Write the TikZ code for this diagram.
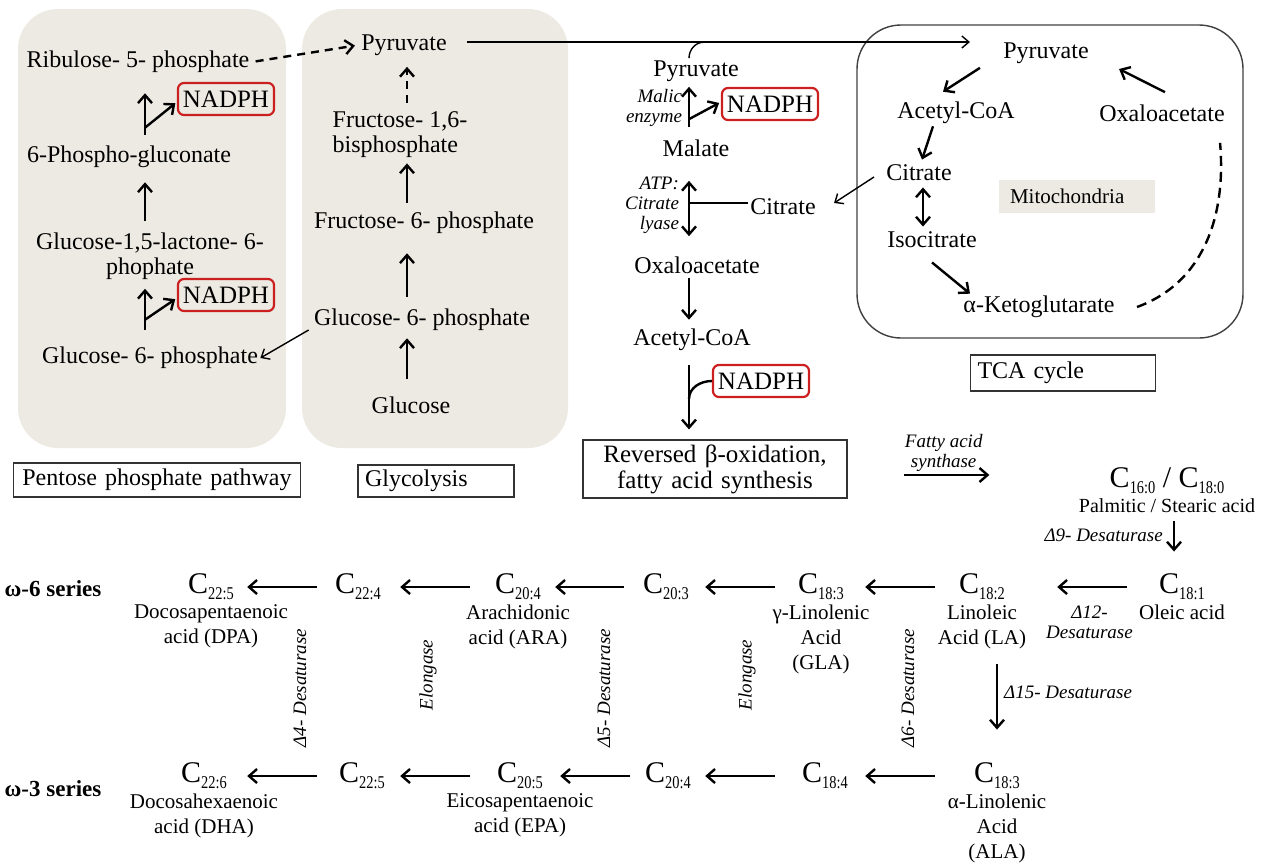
\documentclass[tikz,border=0pt]{standalone}
\usepackage{fontspec}
\setmainfont{Liberation Serif}
\usepackage{tikz}
\usetikzlibrary{positioning,arrows.meta,calc}

\definecolor{panelgray}{RGB}{236,234,226}
\definecolor{nadred}{RGB}{204,32,32}

% carbon chain label C_{n:m}
\newcommand{\chain}[1]{{\fontsize{15}{15}\selectfont C}\raisebox{-3pt}{\scalebox{0.8}[1]{\fontsize{9}{9}\selectfont #1}}}

\begin{document}
\begin{tikzpicture}[
    x=0.5pt, y=-0.5pt,
    lbl/.style={font=\fontsize{12}{12.5}\selectfont, align=center, inner sep=1pt},
    enz/.style={font=\fontsize{9.5}{10}\selectfont\itshape, align=center, inner sep=1pt},
    nadph/.style={draw=nadred, line width=1.1pt, rounded corners=3pt,
                  font=\fontsize{12.5}{12.5}\selectfont, minimum width=48pt,
                  minimum height=16pt, inner sep=1pt},
    tag/.style={draw=black!80, line width=0.6pt, font=\fontsize{12}{12.5}\selectfont,
                inner xsep=3.5pt, inner ysep=1pt, align=left},
    fa/.style={font=\fontsize{15}{15}\selectfont, inner sep=1pt},
    faname/.style={font=\fontsize{10.5}{12.5}\selectfont, align=center, inner sep=0pt},
    series/.style={font=\fontsize{11.5}{12}\selectfont\bfseries},
    arr/.style={-{Straight Barb[length=4pt,width=7pt]}, line width=1.2pt},
    darr/.style={{Straight Barb[length=4pt,width=7pt]}-{Straight Barb[length=4pt,width=7pt]}, line width=1.2pt},
    thinarr/.style={-{Straight Barb[length=3.5pt,width=6pt]}, line width=0.7pt},
    dasharr/.style={arr, dash pattern=on 4pt off 3pt}
]
\useasboundingbox (0,0) rectangle (1261,863);

% panels
\fill[panelgray, rounded corners=20pt] (18,9) rectangle (286,448);
\fill[panelgray, rounded corners=20pt] (302,9) rectangle (568,448);
\draw[black!75, line width=0.7pt, rounded corners=22pt] (857,25) rectangle (1243,338);

% pentose phosphate pathway
\coordinate (pcol) at (145,0);
\node[lbl] (rib) at (138,62) {Ribulose- 5- phosphate};
\node[lbl] (pgl) at (129,157) {6-Phospho-gluconate};
\node[lbl] (lac) at (150,256) {Glucose-1,5-lactone- 6-\\phophate};
\node[lbl] (g6pa) at (150,358) {Glucose- 6- phosphate};
\node[nadph] (nad1) at (226,99) {NADPH};
\node[nadph] (nad2) at (226,295) {NADPH};
\draw[arr, shorten <=4.5pt, shorten >=9pt] (pgl.north -| pcol) -- (rib.south -| pcol);
\draw[arr, shorten >=1pt] ([yshift=8pt]pgl.north -| pcol) -- ([yshift=-1.5pt]nad1.west);
\draw[arr, shorten <=4.5pt, shorten >=6pt] (lac.north -| pcol) -- (pgl.south -| pcol);
\draw[arr, shorten <=7.5pt, shorten >=3.5pt] (g6pa.north -| pcol) -- (lac.south -| pcol);
\draw[arr, shorten >=1pt] ([yshift=12.5pt]g6pa.north -| pcol) -- ([yshift=-1.5pt]nad2.west);

% glycolysis
\coordinate (gcol) at (407,0);
\node[lbl] (pyrg) at (404,45) {Pyruvate};
\node[lbl, align=left] (f16) at (400,135) {Fructose- 1,6-\\bisphosphate};
\node[lbl] (f6p) at (424,223) {Fructose- 6- phosphate};
\node[lbl] (g6pb) at (422,320) {Glucose- 6- phosphate};
\node[lbl] (glc) at (411,405) {Glucose};
\draw[dasharr, shorten <=3.5pt, shorten >=4.5pt] (f16.north -| gcol) -- (pyrg.south -| gcol);
\draw[arr, shorten <=3.5pt, shorten >=1.5pt] (f6p.north -| gcol) -- (f16.south -| gcol);
\draw[arr, shorten <=5pt, shorten >=8.5pt] (g6pb.north -| gcol) -- (f6p.south -| gcol);
\draw[arr, shorten <=7.5pt, shorten >=2.5pt] (glc.north -| gcol) -- (g6pb.south -| gcol);
\draw[thinarr] ([shift={(-1.5pt,-5pt)}]g6pb.west) -- (g6pa.east);
\draw[dasharr, shorten <=2pt, shorten >=2pt] (rib.east) -- (pyrg.west);

% cytosol
\coordinate (mcol) at (689,0);
\node[lbl] (pyrc) at (696,71) {Pyruvate};
\node[nadph] (nad3) at (770,104) {NADPH};
\node[enz, align=right] (malic) at (654,108) {Malic\\enzyme};
\node[lbl] (mal) at (696,148) {Malate};
\node[enz, align=right] (atp) at (652,205) {ATP:\\Citrate\\lyase};
\node[lbl] (citc) at (783,207) {Citrate};
\node[lbl] (oaac) at (697,265) {Oxaloacetate};
\node[lbl] (acoac) at (692,340) {Acetyl-CoA};
\node[nadph] (nad4) at (761,381) {NADPH};
\node[tag, align=center, font=\fontsize{12.5}{13}\selectfont, text width=125pt,
      minimum height=29pt] (rbox) at (715,469) {Reversed β-oxidation,\\fatty acid synthesis};
\draw[arr, shorten <=5pt, shorten >=1.5pt] (mal.north -| mcol) -- (pyrc.south -| mcol);
\draw[arr, shorten >=1pt] ([yshift=9pt]mal.north -| mcol) -- ([yshift=1pt]nad3.west);
\draw[darr, shorten <=11pt, shorten >=9pt] (mal.south -| mcol) -- (oaac.north -| mcol);
\draw[line width=1.2pt] ([yshift=2pt]citc.west) -- ([yshift=2pt]citc.west -| mcol);
\draw[arr, shorten <=1pt, shorten >=3.5pt] (oaac.south -| mcol) -- (acoac.north -| mcol);
\draw[arr, shorten <=6pt, shorten >=5pt] (acoac.south -| mcol) -- (rbox.north -| mcol);
\draw[line width=1.2pt] (nad4.west) to[out=180,in=90] ([yshift=-9pt]nad4.west -| mcol);

% TCA cycle
\node[lbl] (pyrt) at (1046,53) {Pyruvate};
\node[lbl] (acoat) at (956,113) {Acetyl-CoA};
\node[lbl] (citt) at (919,173) {Citrate};
\node[lbl] (isot) at (932,240) {Isocitrate};
\node[lbl] (akgt) at (1039,307) {α-Ketoglutarate};
\node[lbl] (oaat) at (1162,113) {Oxaloacetate};
\node[fill=panelgray, font=\fontsize{10.5}{11}\selectfont, text width=67pt, align=left,
      inner xsep=5.5pt, minimum height=16.5pt] (mito) at (1077,196) {Mitochondria};
\draw[arr] ([shift={(-10.5pt,-1pt)}]pyrt.south west) -- ([shift={(-6.5pt,4pt)}]acoat.north);
\draw[arr] ([xshift=-11.5pt]acoat.south) -- ([shift={(1.5pt,1.5pt)}]citt.north);
\draw[darr] ([shift={(2pt,-2pt)}]citt.south) -- ([shift={(2pt,1.5pt)}]isot.north -| citt.south);
\draw[arr] ([yshift=-6pt]isot.south) -- ([xshift=-34.5pt]akgt.north);
\draw[arr] ([shift={(1.5pt,5pt)}]oaat.north) -- ([shift={(14pt,-8pt)}]pyrt.east);
\draw[line width=1.2pt, dash pattern=on 5pt off 3pt]
    ([xshift=10pt]akgt.east) to[out=20,in=-85] ([shift={(-3.5pt,-9.5pt)}]oaat.south east);

% links between compartments
\draw[thinarr] ([shift={(9pt,1.5pt)}]pyrg.east) -- ([shift={(-15.5pt,1.5pt)}]pyrg.east -| pyrt.west);
\draw[line width=0.7pt] ([xshift=-3.5pt]pyrc.north) to[out=90,in=180] ([shift={(4pt,8pt)}]pyrc.north);
\draw[thinarr] ([shift={(-5pt,-2pt)}]citt.west) -- ([shift={(8pt,2pt)}]citc.east);

% pathway tags
\node[tag, text width=136.5pt, align=center, minimum height=17pt] (ppp) at (157,480) {Pentose phosphate pathway};
\node[tag, text width=71pt, minimum height=16pt] (glyc) at (436,481) {Glycolysis};
\node[tag, text width=85.5pt, minimum height=18pt] (tca) at (1063,373) {TCA cycle};

% fatty acids
\node[fa] (c16) at (1167,481) {\chain{16:0} / \chain{18:0}};
\node[faname, below=1pt of c16, font=\fontsize{10}{12}\selectfont] (palm) {Palmitic / Stearic acid};
\draw[arr, shorten <=28pt, shorten >=59pt] ([yshift=-3pt]rbox.east) -- ([yshift=-3pt]rbox.east -| c16.west)
    node[enz, pos=0.37, above=0pt] {Fatty acid\\synthase};

% omega-6 series
\node[series] (w6) at (53,589) {ω-6 series};
\node[fa] (c181) at (1182,587) {\chain{18:1}};
\node[fa] (c182) at (982,587) {\chain{18:2}};
\node[fa] (c183g) at (821,587) {\chain{18:3}};
\node[fa] (c203) at (666,587) {\chain{20:3}};
\node[fa] (c204) at (518,587) {\chain{20:4}};
\node[fa] (c224) at (358,587) {\chain{22:4}};
\node[fa] (c225a) at (211,587) {\chain{22:5}};
\node[faname, below=1pt of c181] (ole) {Oleic acid};
\node[faname, below=1pt of c182] (la) {Linoleic\\Acid (LA)};
\node[faname, below=1pt of c183g] (gla) {γ-Linolenic\\Acid\\(GLA)};
\node[faname, below=1pt of c204] (ara) {Arachidonic\\acid (ARA)};
\node[faname, below=1pt of c225a] (dpa) {Docosapentaenoic\\acid (DPA)};
\draw[arr, shorten <=4pt, shorten >=10pt] ([xshift=-4pt]palm.south -| c181.north) -- ([xshift=-4pt]c181.north)
    node[enz, pos=0.375, left=4pt] {Δ9- Desaturase};
\draw[arr, shorten <=15pt, shorten >=25pt] (c181.west) -- (c182.east)
    node[enz, pos=0.45, below=8pt] {Δ12-\\Desaturase};
\draw[arr, shorten <=11pt, shorten >=9.5pt] (c182.west) -- (c183g.east);
\draw[arr, shorten <=10.5pt, shorten >=7pt] (c183g.west) -- (c203.east);
\draw[arr, shorten <=8.5pt, shorten >=6pt] (c203.west) -- (c204.east);
\draw[arr, shorten <=11.5pt, shorten >=8.5pt] (c204.west) -- (c224.east);
\draw[arr, shorten <=8pt, shorten >=5.5pt] (c224.west) -- (c225a.east);

% omega-3 series
\node[series] (w3) at (53,789) {ω-3 series};
\node[fa] (c183a) at (997,776) {\chain{18:3}};
\node[fa] (c184) at (825,776) {\chain{18:4}};
\node[fa] (c204b) at (668,776) {\chain{20:4}};
\node[fa] (c205) at (520,776) {\chain{20:5}};
\node[fa] (c225b) at (362,776) {\chain{22:5}};
\node[fa] (c226) at (204,776) {\chain{22:6}};
\node[faname, below=1pt of c183a] (ala) {α-Linolenic\\Acid\\(ALA)};
\node[faname, below=1pt of c205] (epa) {Eicosapentaenoic\\acid (EPA)};
\node[faname, below=1pt of c226] (dha) {Docosahexaenoic\\acid (DHA)};
\draw[arr, shorten <=7.5pt, shorten >=15.5pt] (c183a.north |- la.south) -- (c183a.north)
    node[enz, pos=0.39, right=2pt] {Δ15- Desaturase};
\draw[arr, shorten <=18.5pt, shorten >=7.5pt] (c183a.west) -- (c184.east);
\draw[arr, shorten <=12.5pt, shorten >=6pt] (c184.west) -- (c204b.east);
\draw[arr, shorten <=6.5pt, shorten >=7.5pt] (c204b.west) -- (c205.east);
\draw[arr, shorten <=12.5pt, shorten >=6.5pt] (c205.west) -- (c225b.east);
\draw[arr, shorten <=10pt, shorten >=9pt] (c225b.west) -- (c226.east);

% enzymes between the series
\node[enz, rotate=90] (d4) at (300,688) {Δ4- Desaturase};
\node[enz, rotate=90] (ela) at (428,675) {Elongase};
\node[enz, rotate=90] (d5) at (604,688) {Δ5- Desaturase};
\node[enz, rotate=90] (elb) at (747,675) {Elongase};
\node[enz, rotate=90] (d6) at (908,688) {Δ6- Desaturase};
\end{tikzpicture}
\end{document}
